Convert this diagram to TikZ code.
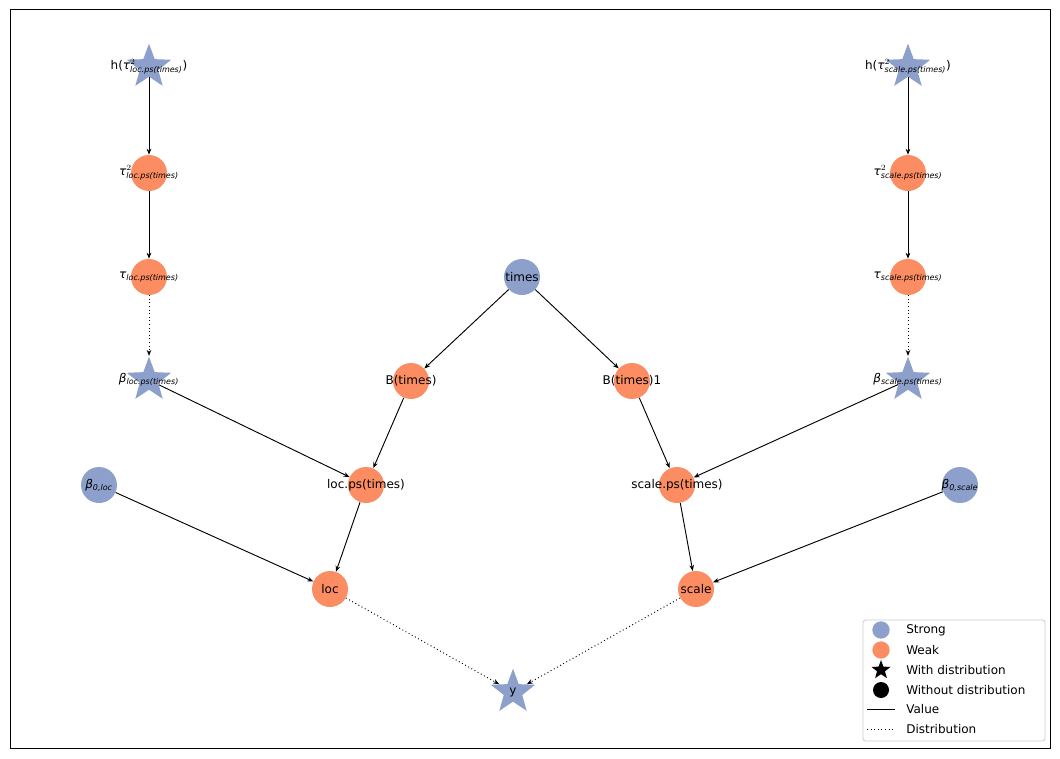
\documentclass[tikz,border=0pt]{standalone}
\usepackage{amsmath}
\usepackage{fontspec}
\setmainfont{DejaVu Sans}
\usetikzlibrary{shapes.geometric,arrows.meta}
\definecolor{sb}{HTML}{8DA0CB}
\definecolor{wo}{HTML}{FC8D62}
\newcommand{\sub}[1]{\textit{#1}}
\newcommand{\gt}{\textit{τ}}
\newcommand{\gb}{\textit{β}}
\begin{document}
\begin{tikzpicture}[x=0.75pt,y=-0.75pt,
  circ/.style={circle,minimum size=27pt,inner sep=0pt},
  strong/.style={circ,fill=sb},
  weak/.style={circ,fill=wo},
  sstar/.style={star,star points=5,star point ratio=2.4,minimum size=35pt,inner sep=0pt,fill=sb},
  lab/.style={font=\fontsize{9}{11}\selectfont,inner sep=0pt},
  val/.style={-{Stealth[length=4.5pt,width=3.5pt]},line width=0.7pt},
  dist/.style={val,dotted}]
\useasboundingbox (0,0) rectangle (1060,758);
\draw[line width=0.6pt] (10,9) rectangle (1050,748);
% nodes
\node[sstar] (hl) at (149,67) {};
\node[weak] (t2l) at (149,173) {};
\node[weak] (tl) at (149,277) {};
\node[sstar] (bl) at (149,380) {};
\node[sstar] (hs) at (908,67) {};
\node[weak] (t2s) at (908,173) {};
\node[weak] (ts) at (908,277) {};
\node[sstar] (bs) at (908,380) {};
\node[strong] (times) at (522,277) {};
\node[weak] (B) at (411,381) {};
\node[weak] (B1) at (632,381) {};
\node[strong] (b0l) at (99,485) {};
\node[weak] (lps) at (366,485) {};
\node[weak] (sps) at (677,485) {};
\node[strong] (b0s) at (960,485) {};
\node[weak] (loc) at (330,589) {};
\node[weak] (scale) at (696,589) {};
\node[sstar] (y) at (513,692) {};
% edges
\draw[val] (hl) -- (t2l);
\draw[val] (t2l) -- (tl);
\draw[dist] (tl) -- (bl);
\draw[val] (hs) -- (t2s);
\draw[val] (t2s) -- (ts);
\draw[dist] (ts) -- (bs);
\draw[val] (times) -- (B);
\draw[val] (times) -- (B1);
\draw[val] (bl) -- (lps);
\draw[val] (B) -- (lps);
\draw[val] (bs) -- (sps);
\draw[val] (B1) -- (sps);
\draw[val] (b0l) -- (loc);
\draw[val] (lps) -- (loc);
\draw[val] (b0s) -- (scale);
\draw[val] (sps) -- (scale);
\draw[dist] (loc) -- (y);
\draw[dist] (scale) -- (y);
% labels
\node[lab] (lhl) at (hl) {h(\gt$^2_{\sub{loc.ps(times)}}$)};
\node[lab] (lt2l) at (t2l) {\gt$^2_{\sub{loc.ps(times)}}$};
\node[lab] (ltl) at (tl) {\gt$_{\sub{loc.ps(times)}}$};
\node[lab] (lbl) at (bl) {\gb$_{\sub{loc.ps(times)}}$};
\node[lab] (lhs) at (hs) {h(\gt$^2_{\sub{scale.ps(times)}}$)};
\node[lab] (lt2s) at (t2s) {\gt$^2_{\sub{scale.ps(times)}}$};
\node[lab] (lts) at (ts) {\gt$_{\sub{scale.ps(times)}}$};
\node[lab] (lbs) at (bs) {\gb$_{\sub{scale.ps(times)}}$};
\node[lab] (ltimes) at (times) {times};
\node[lab] (lB) at (B) {B(times)};
\node[lab] (lB1) at (B1) {B(times)1};
\node[lab] (lb0l) at (b0l) {\gb$_{\sub{0,loc}}$};
\node[lab] (llps) at (lps) {loc.ps(times)};
\node[lab] (lsps) at (sps) {scale.ps(times)};
\node[lab] (lb0s) at (b0s) {\gb$_{\sub{0,scale}}$};
\node[lab] (lloc) at (loc) {loc};
\node[lab] (lscale) at (scale) {scale};
\node[lab] (ly) at (y) {y};
% legend
\draw[rounded corners=2pt,draw=black!20,line width=0.6pt,fill=white] (863,620) rectangle (1045,741);
\node[circle,fill=sb,minimum size=13pt,inner sep=0pt] (m1) at (881,630) {};
\node[circle,fill=wo,minimum size=13pt,inner sep=0pt] (m2) at (881,650) {};
\node[star,star points=5,star point ratio=2.4,fill=black,minimum size=15pt,inner sep=0pt] (m3) at (881,670) {};
\node[circle,fill=black,minimum size=12pt,inner sep=0pt] (m4) at (881,690) {};
\coordinate (v1) at (867,709); \coordinate (v2) at (895,709);
\draw[line width=0.7pt] (v1) -- (v2);
\coordinate (d1) at (867,729); \coordinate (d2) at (895,729);
\draw[line width=0.7pt,dotted] (d1) -- (d2);
\node[lab,anchor=west] (t1) at (906,630) {Strong};
\node[lab,anchor=west] (t2) at (906,650) {Weak};
\node[lab,anchor=west] (t3) at (906,670) {With distribution};
\node[lab,anchor=west] (t4) at (906,690) {Without distribution};
\node[lab,anchor=west] (t5) at (906,709) {Value};
\node[lab,anchor=west] (t6) at (906,729) {Distribution};
\end{tikzpicture}
\end{document}
